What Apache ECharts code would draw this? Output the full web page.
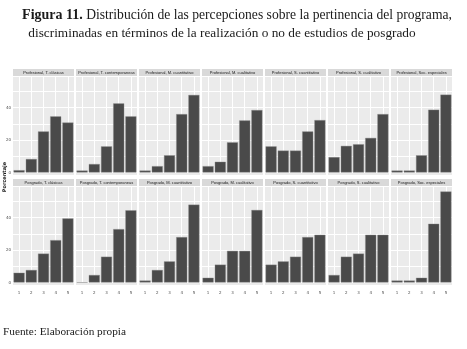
<!DOCTYPE html>
<html>
<head>
<meta charset="utf-8">
<script src="https://cdn.jsdelivr.net/npm/echarts@6/dist/echarts.min.js"></script>
<style>
html, body { margin: 0; padding: 0; background: #fff; }
#chart { width: 467px; height: 349px; }
</style>
</head>
<body>
<div id="chart"></div>
<script>
// categorias del eje x
var categories = ['1', '2', '3', '4', '5'];
// eje y: etiquetas cada 20, lineas cada 10
var yLabelStep = 20;
var yGridStep = 10;
var yMax = 59.5;

// nombres de cada panel
var panelNames = [
	'Profesional, T. clásicas', 'Profesional, T. contemporaneas', 'Profesional, M. cuantitativo',
	'Profesional, M. cualitativo', 'Profesional, S. cuantitativo', 'Profesional, S. cualitativo',
	'Profesional, Soc. especiales',
	'Posgrado, T. clásicas', 'Posgrado, T. contemporaneas', 'Posgrado, M. cuantitativo',
	'Posgrado, M. cualitativo', 'Posgrado, S. cuantitativo', 'Posgrado, S. cualitativo',
	'Posgrado, Soc. especiales'
];

// porcentajes
var profTClasicas = [1.4, 8.3, 25.3, 34.6, 30.8];
var profTContemp = [1.2, 5.2, 16.1, 42.6, 34.6];
var profMCuanti = [1.2, 3.9, 10.6, 36.0, 47.8];
var profMCuali = [3.9, 6.6, 18.6, 32.1, 38.5];
var profSCuanti = [16.1, 13.5, 13.5, 25.3, 32.3];
var profSCuali = [9.5, 16.4, 17.4, 21.3, 36.0];
var profSocEsp = [1.2, 1.2, 10.6, 38.7, 48.0];
var posTClasicas = [6.0, 7.7, 17.8, 26.1, 39.5];
var posTContemp = [0, 4.6, 15.9, 32.9, 44.5];
var posMCuanti = [1.2, 7.7, 13.0, 28.0, 48.0];
var posMCuali = [2.9, 11.0, 19.5, 19.5, 44.7];
var posSCuanti = [11.0, 13.0, 15.9, 28.0, 29.4];
var posSCuali = [4.6, 15.9, 17.8, 29.4, 29.4];
var posSocEsp = [1.2, 1.2, 2.9, 36.2, 56.1];

var panelValues = [
	profTClasicas, profTContemp, profMCuanti, profMCuali, profSCuanti, profSCuali, profSocEsp,
	posTClasicas, posTContemp, posMCuanti, posMCuali, posSCuanti, posSCuali, posSocEsp
];

// eje auxiliar para las lineas verticales en el centro de cada barra
var gridSlots = ['0', '1', '2', '3', '4', '5', '6', '7', '8', '9', '10'];

var chart = echarts.init(document.getElementById('chart'));

var grids = [], xAxes = [], yAxes = [], series = [], graphics = [];
var n = panelValues.length;
for (var i = 0; i < n; i++) {
	var row = i < 7 ? 0 : 1;
	var col = i % 7;
	var panelLeft = 13 + col * 63;
	var panelTop = row == 0 ? 76 : 186;
	grids.push({ left: panelLeft, top: panelTop, width: 61, height: 96.5 });
	// fondo gris del panel
	graphics.push({
		type: 'rect', left: panelLeft, top: panelTop, z: -10,
		shape: { width: 61, height: 99 },
		style: { fill: '#EBEBEB' }
	});
	xAxes.push({
		type: 'category', gridIndex: i, data: categories,
		axisLine: { show: false },
		axisTick: { show: false },
		axisLabel: { show: row == 1, fontSize: 4, color: '#4D4D4D', margin: 8, fontFamily: 'DejaVu Sans' },
		splitLine: { show: false }
	});
	yAxes.push({
		type: 'value', gridIndex: i, min: 0, max: yMax, interval: yGridStep,
		axisLine: { show: false },
		axisTick: { show: false },
		axisLabel: {
			show: col == 0, fontSize: 4, color: '#4D4D4D', margin: 2, fontFamily: 'DejaVu Sans',
			formatter: function (v) { return v % yLabelStep === 0 ? String(v) : ''; }
		},
		splitLine: { show: true, lineStyle: { color: '#FFFFFF', width: 1 } }
	});
	series.push({
		type: 'bar', xAxisIndex: i, yAxisIndex: i,
		data: panelValues[i],
		barCategoryGap: '10%',
		itemStyle: { color: '#4A4A4A', borderColor: '#8A8A8A', borderWidth: 0.4 },
		silent: true
	});
	// franja con el nombre del panel
	graphics.push({
		type: 'rect', left: panelLeft, top: panelTop - 7,
		shape: { width: 61, height: 7 },
		style: { fill: '#D9D9D9' }
	});
	graphics.push({
		type: 'text', x: panelLeft + 30.5, y: panelTop - 3.5,
		style: {
			text: panelNames[i], fontSize: 4, fill: '#1A1A1A',
			fontFamily: 'Liberation Sans', align: 'center', verticalAlign: 'middle'
		}
	});
}
// ejes auxiliares (solo lineas verticales)
for (var j = 0; j < n; j++) {
	xAxes.push({
		type: 'category', gridIndex: j, data: gridSlots, boundaryGap: false,
		position: 'top',
		axisLine: { show: false }, axisTick: { show: false }, axisLabel: { show: false },
		splitLine: {
			show: true, interval: function (idx) { return idx % 2 === 1; },
			lineStyle: { color: '#FFFFFF', width: 1 }
		}
	});
}

// titulo
graphics.push({
	type: 'text', x: 237, y: 15,
	style: {
		text: '{b|Figura 11.} Distribución de las percepciones sobre la pertinencia del programa,',
		fontSize: 13.6, fontFamily: 'Liberation Serif', fill: '#1A1A1A',
		align: 'center', verticalAlign: 'middle',
		rich: { b: { fontWeight: 'bold', fontSize: 14, fontFamily: 'Liberation Serif', fill: '#1A1A1A' } }
	}
});
graphics.push({
	type: 'text', x: 222, y: 34,
	style: {
		text: 'discriminadas en términos de la realización o no de estudios de posgrado',
		fontSize: 13.3, fontFamily: 'Liberation Serif', fill: '#1A1A1A',
		align: 'center', verticalAlign: 'middle'
	}
});
// nombre del eje y
graphics.push({
	type: 'text', x: 5, y: 177, rotation: Math.PI / 2,
	style: {
		text: 'Porcentaje', fontSize: 5, fontWeight: 'bold', fill: '#1A1A1A',
		fontFamily: 'DejaVu Sans', align: 'center', verticalAlign: 'middle'
	}
});
// fuente
graphics.push({
	type: 'text', x: 3, y: 332,
	style: {
		text: 'Fuente: Elaboración propia', fontSize: 11.3, fontFamily: 'Liberation Serif',
		fill: '#1A1A1A', align: 'left', verticalAlign: 'middle'
	}
});

chart.setOption({
	animation: false,
	backgroundColor: '#FFFFFF',
	grid: grids,
	xAxis: xAxes,
	yAxis: yAxes,
	series: series,
	graphic: graphics
});
</script>
</body>
</html>
